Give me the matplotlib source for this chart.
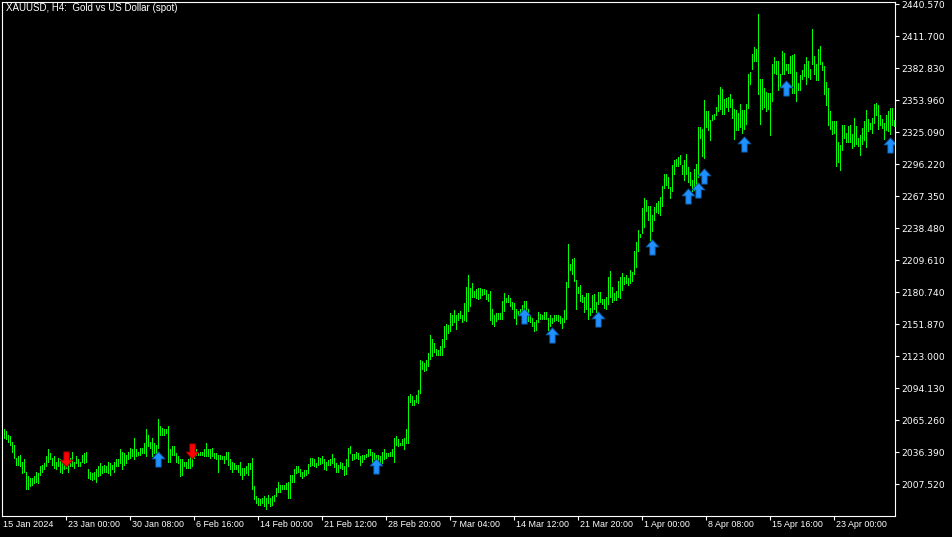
import matplotlib
matplotlib.use("Agg")
import matplotlib.pyplot as plt
import numpy as np
from matplotlib.path import Path

# XAUUSD H4 bars (high / low per bar, oldest first)
highs = [
    2057, 2056, 2052, 2051, 2046, 2043, 2031, 2033, 2034, 2028,
    2030, 2019, 2015, 2013, 2013, 2015, 2019, 2018, 2024, 2025,
    2027, 2033, 2039, 2036, 2031, 2033, 2028, 2031, 2030, 2028,
    2030, 2028, 2027, 2031, 2037, 2028, 2033, 2030, 2028, 2034,
    2036, 2037, 2021, 2019, 2018, 2019, 2021, 2024, 2027, 2024,
    2025, 2024, 2028, 2027, 2025, 2028, 2030, 2030, 2039, 2037,
    2036, 2034, 2037, 2040, 2039, 2049, 2039, 2037, 2040, 2040,
    2045, 2057, 2052, 2046, 2049, 2045, 2043, 2066, 2060, 2058,
    2057, 2057, 2060, 2039, 2042, 2042, 2036, 2033, 2030, 2030,
    2028, 2028, 2030, 2033, 2033, 2037, 2039, 2037, 2037, 2037,
    2039, 2045, 2039, 2039, 2040, 2036, 2036, 2034, 2034, 2033,
    2033, 2037, 2037, 2030, 2028, 2027, 2025, 2025, 2028, 2022,
    2022, 2024, 2027, 2027, 2031, 2006, 1997, 1995, 1994, 1995,
    1997, 1995, 1998, 1995, 1997, 1998, 2004, 2010, 2007, 2007,
    2007, 2009, 2010, 2016, 2016, 2021, 2024, 2024,
    2021, 2019, 2020, 2020, 2026, 2031, 2031, 2030, 2027, 2032,
    2031, 2033, 2030, 2028, 2029, 2030, 2035, 2031, 2027, 2025,
    2028, 2027, 2024, 2030, 2040, 2042, 2035, 2035, 2037, 2036,
    2033, 2034, 2034, 2035, 2039, 2039, 2037, 2036, 2034, 2034,
    2033, 2037, 2039, 2036, 2036, 2037, 2039, 2049, 2051, 2048,
    2045, 2048, 2049, 2057, 2087, 2089, 2087, 2084, 2088, 2093,
    2120, 2119, 2117, 2120, 2126, 2142, 2139, 2135, 2130, 2129,
    2132, 2139, 2150, 2152, 2151,
    2162, 2160, 2165, 2160, 2162, 2164, 2160, 2171, 2186, 2196,
    2185, 2189, 2182, 2184, 2185, 2185, 2184, 2184, 2183, 2179,
    2182, 2166, 2160, 2162, 2162, 2162, 2173, 2180, 2176, 2178,
    2176, 2172, 2171, 2166, 2164, 2166, 2169, 2173, 2173, 2166,
    2160, 2158, 2154, 2156, 2163, 2161, 2160, 2163, 2163, 2158,
    2160, 2158, 2160, 2160, 2160, 2159, 2158, 2165, 2190, 2224,
    2206, 2211, 2212, 2192, 2186, 2187, 2178, 2177, 2180, 2180,
    2167, 2178, 2179, 2172, 2181, 2181, 2175, 2175,
    2177, 2195, 2200, 2186, 2180, 2182, 2191, 2195, 2198, 2195,
    2196, 2194, 2201, 2199, 2218, 2226, 2237, 2233, 2257, 2266,
    2264, 2259, 2259, 2251, 2258, 2261, 2263, 2267, 2277, 2288,
    2288, 2285, 2276, 2296, 2300, 2301, 2303, 2305, 2296, 2300,
    2306, 2294, 2289, 2282, 2292, 2297, 2330, 2330, 2328, 2354,
    2344, 2344, 2336, 2341, 2342, 2348, 2359, 2366, 2364, 2355,
    2356, 2357, 2360, 2355, 2346, 2345, 2343, 2351, 2345, 2345,
    2351,
    2378, 2380, 2396, 2402, 2400, 2432, 2373, 2373, 2365, 2362,
    2361, 2361, 2387, 2393, 2390, 2390, 2378, 2399, 2397, 2387,
    2387, 2394, 2395, 2396, 2380, 2370, 2377, 2381, 2387, 2393,
    2390, 2382, 2418, 2394, 2387, 2400, 2403, 2389, 2385, 2371,
    2365, 2344, 2335, 2335, 2335, 2316, 2314, 2332, 2332, 2325,
    2331, 2332, 2324, 2338, 2331, 2320, 2323, 2329, 2335, 2345,
    2337, 2334, 2338, 2351, 2352, 2350, 2341, 2337, 2334, 2341,
    2344, 2347, 2347, 2336,
]

lows = [
    2049, 2048, 2046, 2043, 2037, 2031, 2025, 2025, 2024, 2018,
    2019, 2003, 2003, 2006, 2007, 2009, 2010, 2009, 2016, 2019,
    2021, 2024, 2028, 2030, 2025, 2022, 2021, 2024, 2019, 2018,
    2021, 2022, 2019, 2024, 2024, 2022, 2027, 2024, 2024, 2028,
    2027, 2028, 2013, 2012, 2011, 2012, 2010, 2015, 2016, 2018,
    2019, 2019, 2018, 2016, 2021, 2019, 2024, 2024, 2027, 2021,
    2025, 2027, 2030, 2031, 2033, 2030, 2033, 2034, 2034, 2036,
    2036, 2033, 2042, 2040, 2033, 2036, 2033, 2040, 2052, 2052,
    2052, 2054, 2028, 2028, 2034, 2034, 2028, 2027, 2015, 2016,
    2024, 2022, 2022, 2022, 2024, 2031, 2034, 2034, 2034, 2034,
    2033, 2033, 2033, 2031, 2033, 2031, 2030, 2019, 2030, 2030,
    2027, 2030, 2025, 2021, 2019, 2021, 2021, 2019, 2016, 2012,
    2016, 2018, 2016, 2021, 2003, 1994, 1991, 1989, 1989, 1991,
    1988, 1985, 1991, 1988, 1989, 1992, 1997, 2001, 2001, 2003,
    2003, 2003, 1995, 1995, 2010, 2010, 2018, 2019,
    2015, 2013, 2015, 2016, 2018, 2024, 2025, 2024, 2023, 2025,
    2026, 2027, 2021, 2020, 2025, 2025, 2027, 2023, 2019, 2019,
    2022, 2021, 2016, 2017, 2024, 2036, 2029, 2030, 2031, 2030,
    2025, 2028, 2030, 2032, 2033, 2034, 2028, 2030, 2030, 2028,
    2025, 2027, 2030, 2031, 2033, 2033, 2033, 2028, 2043, 2042,
    2043, 2043, 2039, 2045, 2045, 2082, 2079, 2079, 2082, 2081,
    2090, 2112, 2110, 2111, 2114, 2121, 2123, 2127, 2124, 2124,
    2124, 2124, 2131, 2139, 2144,
    2146, 2151, 2154, 2148, 2156, 2158, 2154, 2156, 2155, 2164,
    2168, 2177, 2177, 2176, 2175, 2176, 2178, 2179, 2175, 2173,
    2156, 2152, 2150, 2155, 2157, 2157, 2157, 2164, 2172, 2172,
    2168, 2166, 2158, 2152, 2160, 2160, 2162, 2163, 2164, 2155,
    2154, 2150, 2146, 2147, 2154, 2157, 2157, 2157, 2157, 2147,
    2150, 2153, 2155, 2156, 2155, 2153, 2149, 2154, 2157, 2186,
    2201, 2197, 2191, 2166, 2180, 2173, 2172, 2163, 2166, 2157,
    2160, 2163, 2166, 2163, 2170, 2172, 2170, 2167,
    2166, 2170, 2177, 2172, 2174, 2174, 2177, 2176, 2183, 2188,
    2189, 2187, 2189, 2191, 2197, 2204, 2218, 2231, 2234, 2240,
    2254, 2246, 2228, 2236, 2246, 2253, 2252, 2251, 2259, 2275,
    2278, 2275, 2266, 2272, 2288, 2295, 2295, 2297, 2288, 2282,
    2288, 2280, 2278, 2272, 2273, 2275, 2285, 2320, 2304, 2302,
    2330, 2327, 2318, 2336, 2337, 2341, 2344, 2346, 2342, 2342,
    2348, 2344, 2348, 2338, 2319, 2327, 2327, 2330, 2325, 2328,
    2333,
    2347, 2369, 2382, 2390, 2390, 2360, 2333, 2346, 2348, 2344,
    2346, 2323, 2353, 2379, 2378, 2363, 2366, 2378, 2378, 2381,
    2379, 2379, 2361, 2361, 2353, 2363, 2363, 2373, 2376, 2369,
    2375, 2373, 2387, 2378, 2372, 2372, 2387, 2381, 2360, 2350,
    2332, 2328, 2324, 2325, 2295, 2298, 2291, 2309, 2320, 2316,
    2316, 2316, 2311, 2313, 2315, 2313, 2305, 2315, 2318, 2312,
    2326, 2328, 2325, 2334, 2341, 2328, 2332, 2329, 2319, 2327,
    2326, 2324, 2332, 2331,
]

# signal arrows (bar index, price)
buy_bars = [77, 186, 260, 274, 297, 324, 342, 347, 350, 370, 391, 443]
buy_prices = [2030, 2024, 2159, 2142, 2157, 2222, 2268, 2273, 2286, 2315, 2365, 2314]
sell_bars = [31, 94]
sell_prices = [2030, 2038]

first_label = "15 Jan 2024"
time_labels = ["23 Jan 00:00", "30 Jan 08:00", "6 Feb 16:00", "14 Feb 00:00",
               "21 Feb 12:00", "28 Feb 20:00", "7 Mar 04:00", "14 Mar 12:00",
               "21 Mar 20:00", "1 Apr 00:00", "8 Apr 08:00", "15 Apr 16:00",
               "23 Apr 00:00"]
price_ticks = [2007.52, 2036.39, 2065.26, 2094.13, 2123.00, 2151.87, 2180.74,
               2209.61, 2238.48, 2267.35, 2296.22, 2325.09, 2353.96, 2382.83,
               2411.70, 2440.57]

title = "XAUUSD, H4:  Gold vs US Dollar (spot)"


def arrow_marker(up=True):
    # wingdings-like arrow: head on top, shaft below
    verts = [(0, 7), (6, 0.5), (2.5, 0.5), (2.5, -7), (-2.5, -7), (-2.5, 0.5), (-6, 0.5), (0, 7)]
    if not up:
        verts = [(x, -y) for x, y in verts]
    codes = [Path.MOVETO] + [Path.LINETO] * 6 + [Path.CLOSEPOLY]
    return Path(verts, codes)


W, H = 953, 537
fig = plt.figure(figsize=(W / 100, H / 100), dpi=100, facecolor="black")
ax = fig.add_axes([2 / W, 1 - 516 / H, 893 / W, 514 / H])
ax.set_facecolor("black")

plt.rcParams["font.family"] = ["Liberation Sans", "DejaVu Sans"]

idx = np.arange(len(highs))
ax.vlines(idx, lows, highs, colors="#00ff00", linewidth=0.6, antialiased=False)

ax.plot(buy_bars, buy_prices, linestyle="none", marker=arrow_marker(True), ms=11,
        mfc="#1e90ff", mec="#0e4f8f", mew=0.6)
ax.plot(sell_bars, sell_prices, linestyle="none", marker=arrow_marker(False), ms=11,
        mfc="#ff0000", mec="#8b0000", mew=0.6)

ax.set_xlim(-1, 445.5)
ax.set_ylim(1978.9, 2442.8)

for side in ["left", "right", "top", "bottom"]:
    ax.spines[side].set_color("white")
    ax.spines[side].set_linewidth(0.8)

# price scale on the right
ax.yaxis.tick_right()
ax.set_yticks(price_ticks)
ax.set_yticklabels([f"{p:.3f}" for p in price_ticks])
ax.tick_params(axis="y", colors="white", labelcolor="white", labelsize=6.6,
               length=3, width=0.8, pad=1.5, direction="out")

# time scale
tick_bars = [31 + 32 * k for k in range(len(time_labels))]
ax.set_xticks(tick_bars)
ax.set_xticklabels([])
ax.tick_params(axis="x", colors="white", length=3, width=0.8, direction="out")
ax.annotate(first_label, xy=(-0.5, 0), xycoords=("data", "axes fraction"),
            xytext=(0, -3), textcoords="offset points", ha="left", va="top",
            color="white", fontsize=6.6)
for b, lab in zip(tick_bars, time_labels):
    ax.annotate(lab, xy=(b, 0), xycoords=("data", "axes fraction"),
                xytext=(1.5, -3), textcoords="offset points", ha="left", va="top",
                color="white", fontsize=6.4)

fig.text(6 / W, 1 - 3 / H, title, color="white", fontsize=7, ha="left", va="top")

fig.savefig("out.png", dpi=100, facecolor="black")
